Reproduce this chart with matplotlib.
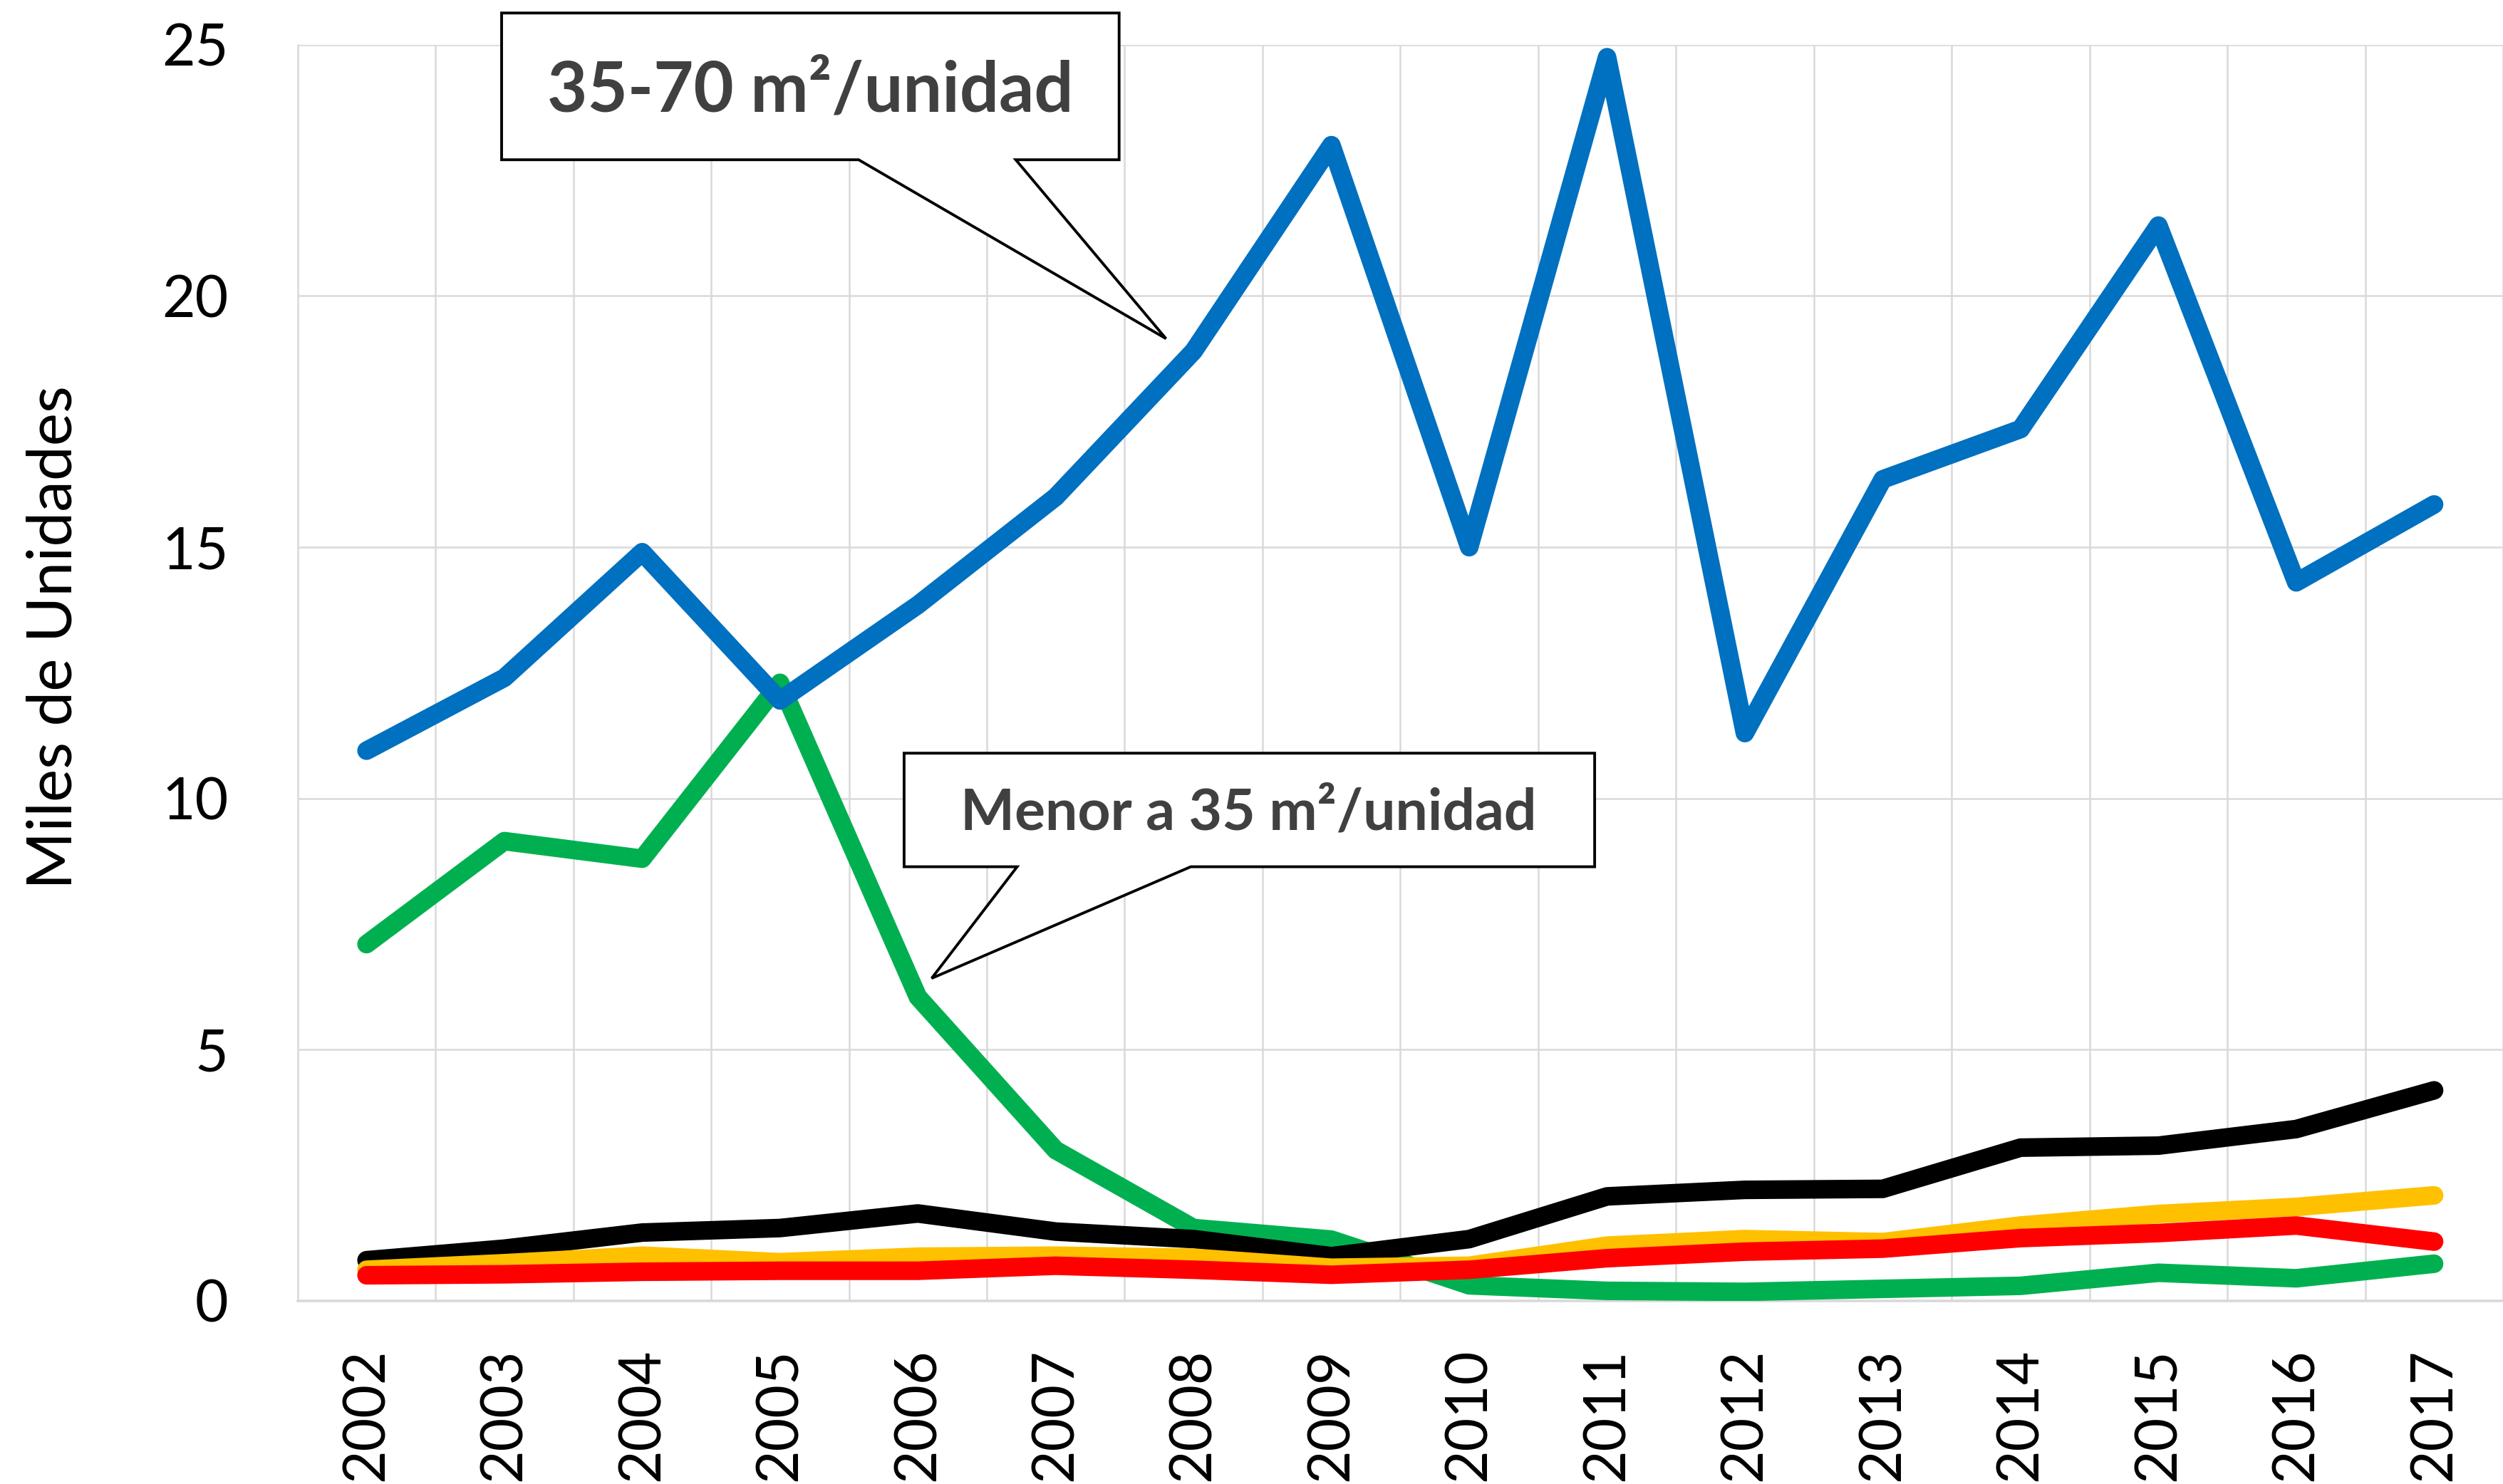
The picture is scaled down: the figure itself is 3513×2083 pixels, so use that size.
import matplotlib
matplotlib.use("Agg")
import matplotlib.pyplot as plt
from matplotlib.patches import Polygon

#---------------------------#
# Data (miles de unidades)
#---------------------------#
years = [2002, 2003, 2004, 2005, 2006, 2007, 2008, 2009,
         2010, 2011, 2012, 2013, 2014, 2015, 2016, 2017]

menor_35 = [7.1, 9.15, 8.8, 12.3, 6.05, 3.0, 1.45, 1.22,
            0.31, 0.2, 0.18, 0.24, 0.3, 0.56, 0.45, 0.74]
de_35_70 = [10.95, 12.4, 14.9, 11.95, 13.85, 16.0, 18.9, 23.0,
            15.0, 24.75, 11.3, 16.35, 17.35, 21.4, 14.3, 15.85]
serie_negra = [0.81, 1.04, 1.36, 1.45, 1.74, 1.38, 1.23, 0.89,
               1.23, 2.08, 2.21, 2.23, 3.05, 3.09, 3.42, 4.19]
serie_naranja = [0.62, 0.75, 0.90, 0.77, 0.88, 0.90, 0.86, 0.66,
                 0.70, 1.10, 1.23, 1.17, 1.50, 1.73, 1.87, 2.10]
serie_roja = [0.51, 0.53, 0.58, 0.60, 0.60, 0.70, 0.62, 0.52,
              0.62, 0.85, 0.98, 1.04, 1.25, 1.35, 1.50, 1.18]

y_ticks = [0, 5, 10, 15, 20, 25]
y_label = "Miles de Unidades"
callout_top = "35-70 m²/unidad"
callout_low = "Menor a 35 m²/unidad"

FONT = ["Lato", "DejaVu Sans"]
GRID = "#d9d9d9"
LW = 9.4


def callout(ax, x0, x1, y_top, y_bot, base_l, base_r, tip):
    # box with a pointer notch on its bottom edge (data coords)
    pts = [(x0, y_top), (x1, y_top), (x1, y_bot), (base_r, y_bot),
           tip, (base_l, y_bot), (x0, y_bot)]
    poly = Polygon(pts, closed=True, facecolor="white", edgecolor="black",
                   linewidth=1.4, joinstyle="miter", clip_on=False, zorder=10)
    ax.add_patch(poly)


def main():
    plt.rcParams["font.family"] = FONT

    fig = plt.figure(figsize=(17.565, 10.415), dpi=200)
    ax = fig.add_axes([0.1189, 0.12338, 0.8811, 0.84652])

    #-------------------------------#
    # Lines
    #-------------------------------#
    kw = dict(linewidth=LW, solid_capstyle="round", solid_joinstyle="round")
    ax.plot(years, menor_35, color="#00B050", zorder=3, **kw)
    ax.plot(years, de_35_70, color="#0070C0", zorder=4, **kw)
    ax.plot(years, serie_negra, color="#000000", zorder=5, **kw)
    ax.plot(years, serie_naranja, color="#FFC000", zorder=6, **kw)
    ax.plot(years, serie_roja, color="#FF0000", zorder=7, **kw)

    #-------------------------------#
    # Axes and grid
    #-------------------------------#
    ax.set_xlim(2001.5, 2017.32)
    ax.set_ylim(0, 25)
    ax.set_xticks(years)
    ax.set_xticklabels([str(y) for y in years], rotation=90, fontsize=29)
    ax.set_xticks([y + 0.5 for y in years], minor=True)
    ax.set_yticks(y_ticks)
    ax.set_yticklabels([str(v) for v in y_ticks], fontsize=29)
    ax.tick_params(axis="both", which="both", length=0)
    ax.tick_params(axis="x", pad=24)
    ax.tick_params(axis="y", pad=35)

    ax.grid(True, axis="y", color=GRID, linewidth=0.9, zorder=0)
    ax.grid(True, axis="x", which="minor", color=GRID, linewidth=0.9, zorder=0)
    ax.set_axisbelow(True)
    for side in ["top", "right"]:
        ax.spines[side].set_visible(False)
    ax.spines["left"].set_color(GRID)
    ax.spines["left"].set_linewidth(0.9)
    ax.spines["bottom"].set_color(GRID)
    ax.spines["bottom"].set_linewidth(1.3)

    ax.set_ylabel(y_label, fontsize=31.5, va="center")
    ax.yaxis.set_label_coords(-0.1105, 0.5285)

    #-------------------------------#
    # Callouts
    #-------------------------------#
    callout(ax, 2002.98, 2007.46, 25.63, 22.71, 2005.57, 2006.71, (2007.80, 19.15))
    ax.text(2005.22, 24.08, callout_top, fontsize=35, fontweight="bold",
            color="#404040", ha="center", va="center", zorder=11, clip_on=False)

    callout(ax, 2005.90, 2010.91, 10.90, 8.64, 2006.72, 2007.98, (2006.10, 6.42))
    ax.text(2008.40, 9.70, callout_low, fontsize=29, fontweight="bold",
            color="#404040", ha="center", va="center", zorder=11)

    fig.savefig("out.png", dpi=200, facecolor="white")


if __name__ == "__main__":
    main()
